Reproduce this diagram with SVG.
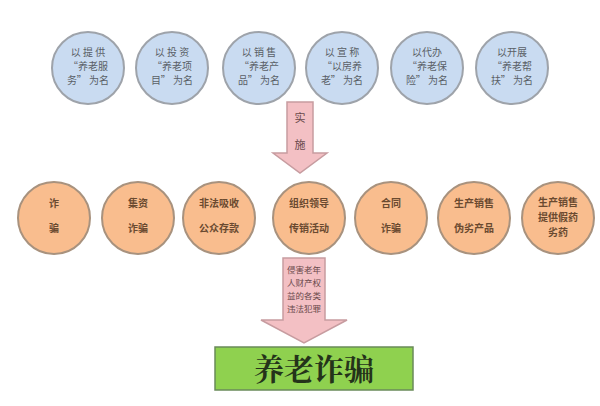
<svg xmlns="http://www.w3.org/2000/svg" width="600" height="406" viewBox="0 0 600 406">
<style>
.blue{fill:#c9dbf1;stroke:#9ea3aa;stroke-width:2}
.orange{fill:#f9bd8e;stroke:#a8927e;stroke-width:2}
.arrow{fill:#f3c0c4;stroke:#c79ca0;stroke-width:1.5}
.tb{font-family:"Noto Sans CJK SC",sans-serif;font-size:10px;fill:#5a5f66;text-anchor:middle}
.to{font-family:"Noto Sans CJK SC",sans-serif;font-size:10px;font-weight:bold;fill:#6a4a30;text-anchor:middle}
.ta{font-family:"Noto Sans CJK SC",sans-serif;font-size:11px;fill:#6a4a4c;text-anchor:middle}
.ta2{font-family:"Noto Sans CJK SC",sans-serif;font-size:8.5px;fill:#6a4a4c;text-anchor:middle}
.big{font-family:"Noto Serif CJK SC","Noto Sans CJK SC",serif;font-size:30px;font-weight:bold;fill:#24331a;text-anchor:middle}
</style>
<rect width="600" height="406" fill="#ffffff"/>
<g id="connectors">
<path class="arrow" d="M287,102 H313 V153 H327 L300,173 L273,153 H287 Z"/>
<text class="ta" x="300" y="122">实</text>
<text class="ta" x="300" y="149">施</text>
<path class="arrow" d="M283,258 H325 V320 H347 L304,343 L261,320 H283 Z"/>
<text class="ta2" x="304" y="273">侵害老年</text>
<text class="ta2" x="304" y="286">人财产权</text>
<text class="ta2" x="304" y="299">益的各类</text>
<text class="ta2" x="304" y="312">违法犯罪</text>
</g>
<g id="t1"><circle class="blue" cx="88" cy="68" r="36"/><text class="tb" x="88" y="56">以 提 供</text><text class="tb" x="88" y="70">“养老服</text><text class="tb" x="88" y="84">务” 为名</text></g>
<g id="t2"><circle class="blue" cx="172" cy="68" r="36"/><text class="tb" x="172" y="56">以 投 资</text><text class="tb" x="172" y="70">“养老项</text><text class="tb" x="172" y="84">目” 为名</text></g>
<g id="t3"><circle class="blue" cx="259" cy="68" r="36"/><text class="tb" x="259" y="56">以 销 售</text><text class="tb" x="259" y="70">“养老产</text><text class="tb" x="259" y="84">品” 为名</text></g>
<g id="t4"><circle class="blue" cx="342" cy="68" r="36"/><text class="tb" x="342" y="56">以 宣 称</text><text class="tb" x="342" y="70">“以房养</text><text class="tb" x="342" y="84">老” 为名</text></g>
<g id="t5"><circle class="blue" cx="427" cy="68" r="36"/><text class="tb" x="427" y="56">以代办</text><text class="tb" x="427" y="70">“养老保</text><text class="tb" x="427" y="84">险” 为名</text></g>
<g id="t6"><circle class="blue" cx="512" cy="68" r="36"/><text class="tb" x="512" y="56">以开展</text><text class="tb" x="512" y="70">“养老帮</text><text class="tb" x="512" y="84">扶” 为名</text></g>
<g id="o1"><circle class="orange" cx="54" cy="218" r="36"/><text class="to" x="54" y="207">诈</text><text class="to" x="54" y="232">骗</text></g>
<g id="o2"><circle class="orange" cx="138" cy="218" r="36"/><text class="to" x="138" y="207">集资</text><text class="to" x="138" y="232">诈骗</text></g>
<g id="o3"><circle class="orange" cx="219" cy="218" r="36"/><text class="to" x="219" y="207">非法吸收</text><text class="to" x="219" y="232">公众存款</text></g>
<g id="o4"><circle class="orange" cx="309" cy="218" r="36"/><text class="to" x="309" y="207">组织领导</text><text class="to" x="309" y="232">传销活动</text></g>
<g id="o5"><circle class="orange" cx="391" cy="218" r="36"/><text class="to" x="391" y="207">合同</text><text class="to" x="391" y="232">诈骗</text></g>
<g id="o6"><circle class="orange" cx="474" cy="218" r="36"/><text class="to" x="474" y="207">生产销售</text><text class="to" x="474" y="232">伪劣产品</text></g>
<g id="o7"><circle class="orange" cx="558" cy="218" r="36"/><text class="to" x="558" y="206">生产销售</text><text class="to" x="558" y="221">提供假药</text><text class="to" x="558" y="236">劣药</text></g>
<g id="result"><rect x="215" y="347" width="198" height="43" fill="#8fd14f" stroke="#6a8a5a" stroke-width="1.5"/><text class="big" x="314" y="380">养老诈骗</text></g>
</svg>
